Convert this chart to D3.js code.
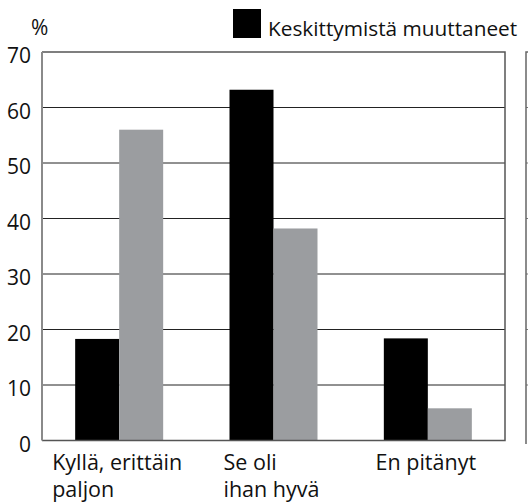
<!DOCTYPE html>
<html><head><meta charset="utf-8">
<script src="https://cdn.jsdelivr.net/npm/d3@7"></script>
<style>body{margin:0;background:#fff}svg{display:block}text{font-family:"Open Sans","Noto Sans",sans-serif;fill:#111}</style>
</head><body>
<svg id="c" width="528" height="504"></svg>
<script>
const categories = [["Kyllä, erittäin","paljon"],["Se oli","ihan hyvä"],["En pitänyt"]];
const seriesNames = ["Keskittymistä muuttaneet", "Muut"];
const blackValues = [18.3, 63.2, 18.4];
const grayValues = [56, 38.2, 5.8];
const yTicks = [0,10,20,30,40,50,60,70];
const colors = ["#000000", "#9b9da0"];

const svg = d3.select("#c");
const m = {l:42, r:505, t:52, b:440.5};
const x = d3.scaleBand().domain(d3.range(categories.length)).range([m.l, m.r]);
const y = d3.scaleLinear().domain([0,70]).range([m.b, m.t]);
const bw = 44;

// gridlines
svg.append("g").selectAll("line").data(yTicks.filter(d=>d>0&&d<70)).join("line")
  .attr("x1", m.l).attr("x2", m.r).attr("y1", d=>y(d)).attr("y2", d=>y(d))
  .attr("stroke", "#222").attr("stroke-width", 1);

// second (cropped) panel
const p2 = 526;
svg.append("g").selectAll("line").data(yTicks.filter(d=>d>0&&d<70)).join("line")
  .attr("x1", p2).attr("x2", 540).attr("y1", d=>y(d)).attr("y2", d=>y(d))
  .attr("stroke", "#777").attr("stroke-width", 1);
svg.append("path").attr("d", `M540,${y(70)}H${p2}V444`).attr("fill","none").attr("stroke","#666").attr("stroke-width",1.5);

// bars
const g = svg.append("g");
categories.forEach((c,i)=>{
  const cx = x(i) + x.bandwidth()/2;
  g.append("rect").attr("x", cx-bw).attr("width", bw).attr("y", y(blackValues[i])).attr("height", y(0)-y(blackValues[i])).attr("fill", colors[0]);
  g.append("rect").attr("x", cx).attr("width", bw).attr("y", y(grayValues[i])).attr("height", y(0)-y(grayValues[i])).attr("fill", colors[1]);
});

// frame
svg.append("path").attr("d", `M${m.l},${y(70)}H${m.r}V${y(0)}H${m.l}`).attr("fill","none").attr("stroke","#555").attr("stroke-width",1.5);
svg.append("line").attr("x1", m.l).attr("x2", m.l).attr("y1", y(70)).attr("y2", y(0)).attr("stroke","#8a8a8a").attr("stroke-width",2);

// y axis labels
const yAxis = d3.axisLeft(y).tickValues(yTicks).tickSize(0).tickPadding(11);
const ya = svg.append("g").attr("transform", `translate(${m.l},4)`).call(yAxis);
ya.select(".domain").remove();
ya.selectAll("text").style("font-size","21px").style("font-family",'"Open Sans","Noto Sans",sans-serif').attr("fill","#111");

svg.append("text").attr("x", 31).attr("y", 35).style("font-size","21px").text("%");

// x labels
categories.forEach((lines,i)=>{
  const cx = x(i) + x.bandwidth()/2;
  const t = svg.append("text").style("font-size","21.5px");
  lines.forEach((l,j)=>t.append("tspan").attr("y", 470 + j*27).text(l));
  let w = 0;
  t.selectAll("tspan").each(function(){ w = Math.max(w, this.getComputedTextLength()); });
  t.selectAll("tspan").attr("x", cx - w/2 - 2);
});

// legend
svg.append("rect").attr("x", 233).attr("y", 9).attr("width", 28).attr("height", 29).attr("fill", colors[0]);
svg.append("text").attr("x", 268).attr("y", 36).style("font-size","20.8px").text(seriesNames[0]);
</script>
</body></html>
